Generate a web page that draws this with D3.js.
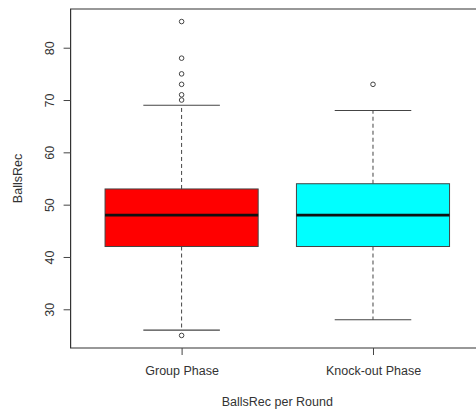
<!DOCTYPE html>
<html>
<head>
<script src="https://d3js.org/d3.v7.min.js"></script>
<style>
  html, body { margin: 0; background: #fff; overflow: hidden; }
  svg { display: block; }
  text { font-family: "Liberation Sans", Arial, sans-serif; fill: #333; }
</style>
</head>
<body>
<div id="chart"></div>
<script>
// categories and five-number summaries
var phases = ["Group Phase", "Knock-out Phase"];
var lowerWhisker = [26, 28];
var q1 = [42, 42];
var median = [48, 48];
var q3 = [53, 54];
var upperWhisker = [69, 68];
var outliers = [[85, 78, 75, 73, 71, 70, 25], [73]];
var boxColors = ["#ff0000", "#00ffff"];
var yTicks = [30, 40, 50, 60, 70, 80];

var W = 476, H = 414;
var margin = { top: 9, right: -8, bottom: 66, left: 70.6 };

var svg = d3.select("#chart").append("svg")
    .attr("width", W).attr("height", H);

// R style: x from 0.42 to 2.58, y range 25..85 padded by 4%
var x = d3.scaleLinear().domain([0.42, 2.58]).range([margin.left, W - margin.right]);
var y = d3.scaleLinear().domain([22.6, 87.4]).range([H - margin.bottom, margin.top]);

var boxHalf = 0.4, capHalf = 0.2;

// plot frame: the right side falls outside the picture, so only three sides
var frame = svg.append("path")
    .attr("d", "M" + W + "," + y(87.4) + "H" + x(0.42) + "V" + y(22.6) + "H" + W)
    .attr("fill", "none").attr("stroke", "#333").attr("stroke-width", 1.2);

var boxes = svg.append("g").selectAll("g")
    .data(phases).enter().append("g");

boxes.each(function (d, i) {
    var g = d3.select(this), c = i + 1;
    // whiskers
    g.append("line").attr("x1", x(c)).attr("x2", x(c))
        .attr("y1", y(q3[i])).attr("y2", y(upperWhisker[i]))
        .attr("stroke", "#444").attr("stroke-dasharray", "4,3");
    g.append("line").attr("x1", x(c)).attr("x2", x(c))
        .attr("y1", y(q1[i])).attr("y2", y(lowerWhisker[i]))
        .attr("stroke", "#444").attr("stroke-dasharray", "4,3");
    // caps
    [upperWhisker[i], lowerWhisker[i]].forEach(function (v) {
        g.append("line").attr("x1", x(c - capHalf)).attr("x2", x(c + capHalf))
            .attr("y1", y(v)).attr("y2", y(v))
            .attr("stroke", "#444").attr("stroke-width", 1.2);
    });
    // box
    g.append("rect")
        .attr("x", x(c - boxHalf)).attr("y", y(q3[i]))
        .attr("width", x(c + boxHalf) - x(c - boxHalf))
        .attr("height", y(q1[i]) - y(q3[i]))
        .attr("fill", boxColors[i]).attr("stroke", "#444").attr("stroke-width", 1);
    // median
    g.append("line").attr("x1", x(c - boxHalf)).attr("x2", x(c + boxHalf))
        .attr("y1", y(median[i])).attr("y2", y(median[i]))
        .attr("stroke", "#111").attr("stroke-width", 2.6);
    // outliers
    g.selectAll("circle").data(outliers[i]).enter().append("circle")
        .attr("cx", x(c)).attr("cy", function (v) { return y(v); })
        .attr("r", 2.3).attr("fill", "none").attr("stroke", "#444").attr("stroke-width", 1);
});

// y axis
var yAxis = svg.append("g")
    .attr("transform", "translate(" + x(0.42) + ",0)")
    .call(d3.axisLeft(y).tickValues(yTicks).tickSize(7).tickPadding(0));
yAxis.select(".domain").remove();
yAxis.selectAll("line").attr("stroke", "#444");
yAxis.selectAll("text").remove();
yAxis.selectAll(".tick").append("text")
    .attr("transform", "translate(-21,0) rotate(-90)")
    .attr("text-anchor", "middle").attr("dy", "0.35em")
    .style("font-size", "12.5px")
    .text(function (d) { return d; });

// x axis
var xAxis = svg.append("g")
    .attr("transform", "translate(0," + y(22.6) + ")")
    .call(d3.axisBottom(x).tickValues([1, 2]).tickSize(7).tickPadding(11)
        .tickFormat(function (d) { return phases[d - 1]; }));
xAxis.select(".domain").remove();
xAxis.selectAll("line").attr("stroke", "#444");
xAxis.selectAll("text").style("font-size", "12.5px").attr("fill", "#333")
    .style("font-family", "'Liberation Sans', Arial, sans-serif");

// axis titles
svg.append("text")
    .attr("x", (x(0.42) + x(2.58)) / 2).attr("y", 406)
    .attr("text-anchor", "middle").style("font-size", "12.5px")
    .text("BallsRec per Round");

svg.append("text")
    .attr("transform", "translate(22," + ((y(22.6) + y(87.4)) / 2) + ") rotate(-90)")
    .attr("text-anchor", "middle").style("font-size", "12.5px")
    .text("BallsRec");
</script>
</body>
</html>
